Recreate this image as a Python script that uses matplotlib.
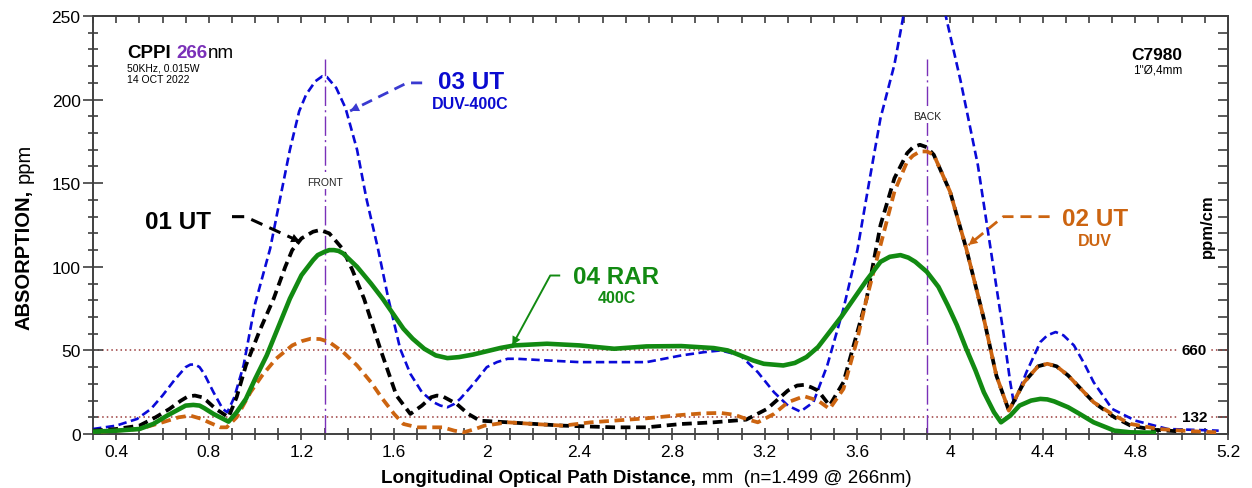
import matplotlib.pyplot as plt
from matplotlib.ticker import MultipleLocator, FuncFormatter

plt.rcParams['font.family'] = ['Liberation Sans', 'DejaVu Sans']

# 03 UT (DUV-400C), blue dashed
x_03 = [0.30, 0.40, 0.49, 0.55, 0.60, 0.65, 0.70, 0.72, 0.74, 0.76, 0.78, 0.82, 0.86, 0.88,
        0.91, 0.95, 1.00, 1.065, 1.108, 1.15, 1.19, 1.22, 1.26, 1.29, 1.31, 1.35, 1.39,
        1.44, 1.48, 1.53, 1.575, 1.626, 1.67, 1.72, 1.77, 1.80, 1.83, 1.86, 1.885, 1.93,
        1.96, 2.00, 2.044, 2.09, 2.13, 2.26, 2.40, 2.55, 2.69, 2.84, 2.94, 3.01, 3.095,
        3.17, 3.24, 3.30, 3.354, 3.41, 3.47, 3.54, 3.60, 3.65, 3.70, 3.76, 3.80, 3.85,
        3.90, 3.94, 3.98, 4.046, 4.12, 4.175, 4.23, 4.26, 4.276, 4.33, 4.39, 4.42, 4.456,
        4.49, 4.535, 4.58, 4.62, 4.70, 4.80, 4.94, 5.16]
y_03 = [3, 5, 9, 15, 23, 32, 40, 41.5, 41.6, 40, 36, 25, 15, 13,
        22, 41, 78, 111, 141, 170, 193, 203, 211, 214, 213.5, 207, 195,
        170, 141, 111, 81, 51, 36, 25, 19, 17, 16, 18, 21, 28,
        33, 40, 43, 45, 45, 44, 43, 43, 43, 47, 49, 50, 47,
        37, 25, 17, 13.4, 19, 41, 75, 110, 150, 189, 221, 251, 278,
        292, 280, 251, 211, 161, 111, 61, 31, 18, 37, 55, 59, 61,
        59, 53, 42, 31, 15, 8, 3, 2]

# 01 UT, black dashed
x_01 = [0.30, 0.40, 0.50, 0.57, 0.63, 0.68, 0.71, 0.74, 0.77, 0.79, 0.83, 0.885, 0.92, 0.96,
        1.02, 1.08, 1.13, 1.16, 1.20, 1.25, 1.28, 1.32, 1.376, 1.42, 1.47, 1.54, 1.61,
        1.67, 1.72, 1.76, 1.785, 1.81, 1.87, 1.92, 1.97, 2.09, 2.33, 2.55, 2.69, 2.84,
        2.98, 3.12, 3.21, 3.30, 3.34, 3.37, 3.40, 3.43, 3.48, 3.54, 3.60, 3.64, 3.70,
        3.76, 3.815, 3.84, 3.87, 3.90, 3.93, 4.00, 4.07, 4.146, 4.20, 4.254, 4.32, 4.38,
        4.42, 4.46, 4.51, 4.62, 4.71, 4.78, 4.88, 5.00]
y_01 = [2, 3, 5, 10, 15, 20, 22.5, 23, 22, 20, 15, 10, 22, 41,
        62, 81, 100, 110, 117, 121, 122, 120, 111, 98, 81, 51, 23,
        12, 17, 22, 23, 22.5, 18, 12, 8, 7, 5, 4, 4, 6,
        7, 8.6, 15, 26, 29, 29.4, 28, 26, 17, 31, 61, 81, 125,
        153, 168, 171.5, 173, 171.5, 167, 145, 111, 69, 35, 14, 31, 40.5,
        42, 40.5, 35, 19, 10, 5, 2.5, 1.5]

# 02 UT (DUV), orange dashed
x_02 = [0.30, 0.40, 0.50, 0.60, 0.67, 0.72, 0.77, 0.80, 0.85, 0.877, 0.92, 0.98, 1.03,
        1.09, 1.16, 1.20, 1.24, 1.28, 1.32, 1.38, 1.44, 1.50, 1.55, 1.60, 1.64, 1.70,
        1.81, 1.86, 1.90, 1.95, 1.99, 2.09, 2.20, 2.33, 2.45, 2.55, 2.69, 2.84, 2.94,
        3.01, 3.07, 3.12, 3.17, 3.24, 3.30, 3.37, 3.43, 3.48, 3.54, 3.60, 3.64, 3.70,
        3.76, 3.815, 3.84, 3.87, 3.90, 3.93, 4.00, 4.07, 4.146, 4.20, 4.254, 4.32, 4.38,
        4.42, 4.46, 4.51, 4.62, 4.71, 4.78, 4.90, 5.00, 5.15]
y_02 = [1, 2, 3, 7, 10, 11, 9, 7, 4, 4, 10, 25, 35,
        45, 53, 55.5, 57, 56.8, 55, 49, 41, 31, 21, 12, 6, 4,
        4, 2, 1, 3, 5, 7, 6, 5, 7, 8, 9.4, 11.4, 12.4,
        12.6, 11.5, 9, 7, 12, 19, 22.6, 20, 15, 27, 57, 81, 113,
        145, 163, 166.5, 169, 169, 167, 145, 111, 69, 35, 14, 31, 40.5,
        42, 40.5, 35, 19, 11, 6, 3, 2, 1]

# 04 RAR (400C), green solid
x_04 = [0.30, 0.40, 0.50, 0.56, 0.62, 0.68, 0.70, 0.733, 0.76, 0.78, 0.82, 0.885, 0.92,
        0.96, 1.00, 1.05, 1.10, 1.15, 1.20, 1.25, 1.27, 1.30, 1.32, 1.34, 1.36, 1.38,
        1.44, 1.50, 1.55, 1.60, 1.64, 1.68, 1.73, 1.78, 1.83, 1.88, 1.94, 2.00, 2.06,
        2.12, 2.26, 2.40, 2.55, 2.69, 2.84, 2.98, 3.04, 3.095, 3.15, 3.196, 3.28, 3.33,
        3.38, 3.43, 3.48, 3.53, 3.585, 3.64, 3.70, 3.74, 3.786, 3.82, 3.85, 3.90, 3.95,
        3.99, 4.03, 4.07, 4.11, 4.146, 4.19, 4.22, 4.26, 4.30, 4.35, 4.39, 4.42, 4.45,
        4.51, 4.56, 4.62, 4.71, 4.78, 4.88]
y_04 = [1.4, 2, 3, 6, 11, 15.5, 17, 17.4, 17, 15.5, 12, 7.4, 13,
        21, 33, 47, 64, 81, 95, 104, 107, 109, 110, 110, 109.5, 108,
        100, 90, 81, 71, 63, 57, 51, 47, 45.4, 46, 47.5, 49.5, 51.5,
        53, 54, 53, 51, 52.4, 52.6, 51.4, 50, 47, 44, 42, 41, 42.5,
        46, 52, 61, 70, 81, 92, 103, 106, 107, 105.5, 103, 97, 88,
        77, 65, 51, 38, 25, 13, 7, 11, 17, 20, 21, 20.7, 19.5,
        16, 12, 7, 2, 1, 0.8]

front_x, back_x = 1.3, 3.9
ref_levels = [50, 10]
ref_labels = ['660', '132']
x_ticks = [0.4, 0.8, 1.2, 1.6, 2.0, 2.4, 2.8, 3.2, 3.6, 4.0, 4.4, 4.8, 5.2]

blue, orange, green, purple, dred = '#0a0ad8', '#cc6410', '#128a12', '#7a30b8', '#9a3a3a'

fig = plt.figure(figsize=(12.52, 4.89), dpi=100)
ax = fig.add_axes([0.0743, 0.1104, 0.9065, 0.8548])

ax.plot(x_03, y_03, color=blue, lw=1.9, ls=(0, (3.2, 1.7)), zorder=3)
ax.plot(x_01, y_01, color='black', lw=2.7, ls=(0, (2.6, 1.5)), zorder=4)
ax.plot(x_02, y_02, color=orange, lw=2.7, ls=(2, (2.6, 1.5)), zorder=5)
ax.plot(x_04, y_04, color=green, lw=3.3, zorder=6)

# reference levels
for lev, lab in zip(ref_levels, ref_labels):
    ax.axhline(lev, color=dred, lw=1.1, ls=(0, (1, 2)), zorder=1)
    ax.text(5.056, lev, lab, fontsize=11, weight='bold', ha='center', va='center',
            bbox=dict(facecolor='white', edgecolor='none', pad=2), zorder=2)

# front / back surface markers
for xv, lab, ylab in [(front_x, 'FRONT', 151), (back_x, 'BACK', 190)]:
    ax.plot([xv, xv], [0, 224], color=purple, lw=1.0, ls=(0, (14, 3, 1.5, 3)), zorder=2)
    ax.text(xv, ylab, lab, fontsize=7.5, ha='center', va='center', color='#222222',
            bbox=dict(facecolor='white', edgecolor='none', pad=1.5), zorder=2)


def leader(pts, color, ls, lw):
    xs = [p[0] for p in pts]
    ys = [p[1] for p in pts]
    ax.plot(xs, ys, color=color, lw=lw, ls=ls, zorder=7, solid_capstyle='butt')
    ax.annotate('', xy=pts[-1], xytext=pts[-2], zorder=7,
                arrowprops=dict(arrowstyle='-|>', color=color, lw=0, mutation_scale=16,
                                shrinkA=0, shrinkB=0))


leader([(1.721, 210), (1.656, 210), (1.41, 193.2)], '#3a3ad0', (0, (4, 2.5)), 2.0)
ax.text(1.93, 211, '03 UT', color='#0a0ad0', fontsize=17.5, weight='bold', ha='center', va='center')
ax.text(1.93, 197.5, 'DUV-400C', color='#0a0ad0', fontsize=11.5, weight='bold', ha='center', va='center')

leader([(0.90, 130), (0.957, 130), (1.194, 115)], 'black', (0, (4, 2.5)), 2.2)
ax.text(0.667, 127, '01 UT', color='black', fontsize=17.5, weight='bold', ha='center', va='center')

leader([(2.317, 94.8), (2.274, 94.8), (2.11, 53)], green, '-', 1.4)
ax.text(2.56, 94.5, '04 RAR', color=green, fontsize=17.5, weight='bold', ha='center', va='center')
ax.text(2.56, 81.5, '400C', color=green, fontsize=11.5, weight='bold', ha='center', va='center')

leader([(4.43, 130), (4.23, 130), (4.08, 113)], orange, (0, (4, 2.5)), 2.0)
ax.text(4.625, 129, '02 UT', color=orange, fontsize=17.5, weight='bold', ha='center', va='center')
ax.text(4.625, 115.5, 'DUV', color=orange, fontsize=11.5, weight='bold', ha='center', va='center')

# header texts
t1 = ax.text(0.030, 0.901, 'CPPI', transform=ax.transAxes, fontsize=13.5, weight='bold', va='baseline')
t2 = ax.annotate('266', xy=(1, 0), xycoords=t1, xytext=(4, 0), textcoords='offset points',
                 fontsize=13.5, weight='bold', color=purple, va='bottom')
ax.annotate('nm', xy=(1, 0), xycoords=t2, fontsize=13.5, va='bottom')
ax.text(0.030, 0.869, '50KHz, 0.015W', transform=ax.transAxes, fontsize=7.5, va='baseline')
ax.text(0.030, 0.843, '14 OCT 2022', transform=ax.transAxes, fontsize=7.5, va='baseline')
ax.text(0.960, 0.897, 'C7980', transform=ax.transAxes, fontsize=12.5, weight='bold', ha='right', va='baseline')
ax.text(0.960, 0.864, '1"Ø,4mm', transform=ax.transAxes, fontsize=8.5, ha='right', va='baseline')

ax.text(5.11, 125, 'ppm/cm', fontsize=12, weight='bold', rotation=90, ha='center', va='center')

# axis labels (mixed weight)
xb = fig.text(0.556, 0.022, 'Longitudinal Optical Path Distance,', fontsize=13.5,
              weight='bold', ha='right', va='center')
ax.annotate('mm  (n=1.499 @ 266nm)', xy=(1, 0), xycoords=xb, xytext=(4, 0),
            textcoords='offset points', fontsize=13.5, va='bottom', ha='left')
yb = fig.text(0.019, 0.611, 'ABSORPTION,', fontsize=14.5, weight='bold', rotation=90,
              ha='center', va='top')
ax.annotate('ppm', xy=(0.5, 1), xycoords=yb, xytext=(0, 5), textcoords='offset points',
            fontsize=14.5, rotation=90, ha='center', va='bottom')

# axes / ticks
ax.set_xlim(0.3, 5.2)
ax.set_ylim(0, 250)
ax.set_xticks(x_ticks)
ax.xaxis.set_minor_locator(MultipleLocator(0.1))
ax.xaxis.set_major_formatter(FuncFormatter(lambda v, p: f'{v:g}'))
ax.yaxis.set_major_locator(MultipleLocator(50))
ax.yaxis.set_minor_locator(MultipleLocator(10))
ax.tick_params(axis='x', which='both', direction='inout', length=8.5, width=1.2,
               labelsize=12.5, pad=3, color='#404040')
ax.tick_params(axis='y', which='major', direction='inout', length=14, width=1.2,
               labelsize=12.5, pad=2, color='#404040')
ax.tick_params(axis='y', which='minor', direction='inout', length=7, width=1.2, color='#404040')

top = ax.secondary_xaxis('top')
top.xaxis.set_major_locator(MultipleLocator(0.1))
top.tick_params(which='both', direction='in', length=5, width=1.2, labeltop=False, color='#404040')
right = ax.secondary_yaxis('right')
right.yaxis.set_major_locator(MultipleLocator(10))
right.tick_params(which='both', direction='in', length=7, width=1.2, labelright=False, color='#404040')
for a in (ax, top, right):
    for s in a.spines.values():
        s.set_color('#404040')
        s.set_linewidth(1.4)

fig.savefig('out.png', dpi=100)
